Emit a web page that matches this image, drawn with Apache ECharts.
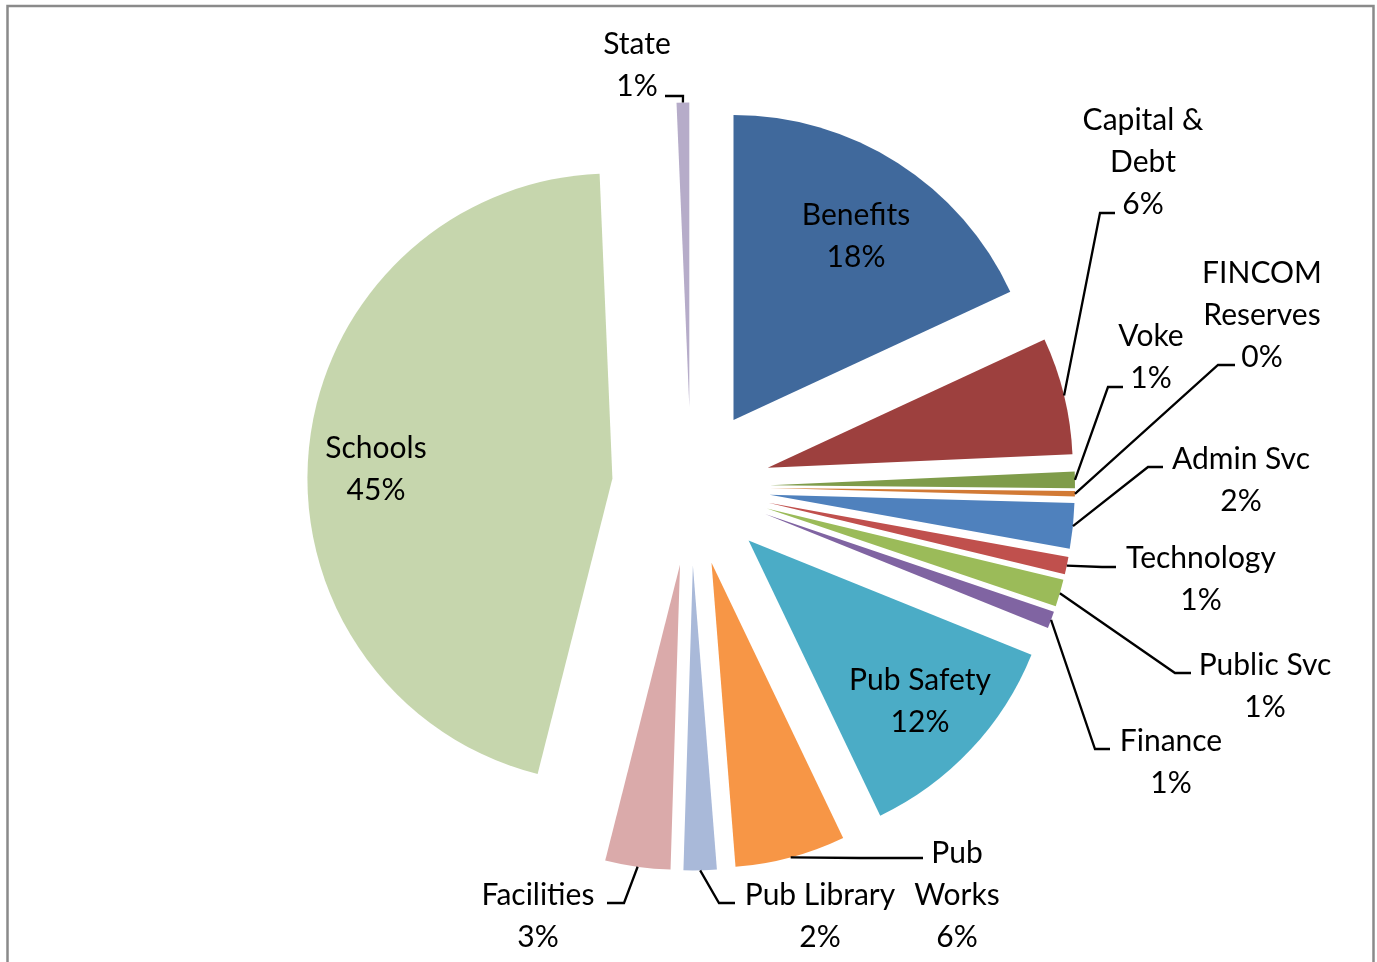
<!DOCTYPE html>
<html><head><meta charset="utf-8">
<script src="https://cdn.jsdelivr.net/npm/echarts@6/dist/echarts.min.js"></script>
<style>html,body{margin:0;padding:0;background:#fff}#c{width:1377px;height:962px}</style>
</head><body><div id="c"></div>
<script>
// ---- data ----
const categories = ['Benefits','Capital &\nDebt','Voke','FINCOM\nReserves','Admin Svc','Technology','Public Svc','Finance','Pub Safety','Pub\nWorks','Pub Library','Facilities','Schools','State'];
const shares = [18.1, 6.2, 0.87, 0.28, 2.4, 0.92, 1.44, 0.9, 11.8, 5.85, 1.75, 3.45, 45.4, 0.67];
const sliceColors = ['#40699C','#9D403E','#7F9C4A','#D27A35','#4F81BD','#C0504D','#9BBB59','#8064A2','#4BACC6','#F79646','#A9B9D9','#DAAAAA','#C6D6AD','#B6ACC9'];
const insideLabelCats = ['Benefits','Pub Safety','Schools'];

// ---- layout (positions, not data) ----
const CX = 691, CY = 486.5, R = 305, OFFSET = 79;
const labelAnchors = {
  'Benefits':          {x: 856,  y: 236},
  'Capital &\nDebt':   {x: 1143, y: 162, elbow: [1100, 213], end: [1115, 213]},
  'Voke':              {x: 1151, y: 357, elbow: [1108, 387], end: [1123, 387]},
  'FINCOM\nReserves':  {x: 1262, y: 315, elbow: [1218, 365], end: [1235, 365]},
  'Admin Svc':         {x: 1241, y: 480, elbow: [1148, 467], end: [1163, 467]},
  'Technology':        {x: 1201, y: 579, elbow: [1102, 567], end: [1116, 567]},
  'Public Svc':        {x: 1265, y: 686, elbow: [1175, 673], end: [1191, 673]},
  'Finance':           {x: 1171, y: 762, elbow: [1095, 749], end: [1110, 749]},
  'Pub Safety':        {x: 920,  y: 701},
  'Pub\nWorks':        {x: 957,  y: 895, elbow: [860, 858], end: [923, 858]},
  'Pub Library':       {x: 820,  y: 916, elbow: [719, 903], end: [735, 903]},
  'Facilities':        {x: 538,  y: 916, elbow: [624, 903], end: [607, 903]},
  'Schools':           {x: 376,  y: 469},
  'State':             {x: 637,  y: 65,  elbow: [683, 96], end: [665, 96]}
};

const total = shares.reduce((a, b) => a + b, 0);
function midAngle(i) {
  let s = 0;
  for (let k = 0; k < i; k++) s += shares[k];
  return (s + shares[i] / 2) / total * 2 * Math.PI;
}

const sliceData = categories.map((c, i) => ({
  name: c, value: shares[i], selected: true,
  itemStyle: {color: sliceColors[i]}
}));
const labelData = categories.map((c, i) => ({
  name: c, value: shares[i],
  labelLine: {show: insideLabelCats.indexOf(c) < 0}
}));

const common = {
  type: 'pie',
  center: [CX, CY],
  radius: [0, R],
  startAngle: 90,
  clockwise: true,
  avoidLabelOverlap: false,
  emphasis: {disabled: true}
};

const chart = echarts.init(document.getElementById('c'), null, {renderer: 'canvas'});
chart.setOption({
  animation: false,
  backgroundColor: '#ffffff',
  graphic: [{
    type: 'rect', silent: true, z: -1,
    shape: {x: 7.5, y: 6, width: 1366, height: 980},
    style: {fill: 'none', stroke: '#8a8a8a', lineWidth: 2.5}
  }],
  series: [
    Object.assign({}, common, {
      name: 'slices',
      selectedMode: 'multiple',
      selectedOffset: OFFSET,
      select: {itemStyle: {borderWidth: 0}},
      itemStyle: {borderWidth: 0},
      label: {show: false},
      labelLine: {show: false},
      data: sliceData
    }),
    Object.assign({}, common, {
      name: 'labels',
      silent: true,
      selectedMode: false,
      z: 3,
      itemStyle: {color: 'rgba(0,0,0,0)', borderWidth: 0},
      data: labelData,
      label: {
        show: true,
        position: 'outside',
        fontFamily: 'Lato, "Open Sans", sans-serif',
        fontSize: 30,
        lineHeight: 42,
        color: '#000',
        align: 'center',
        formatter: p => p.name + '\n' + Math.round(p.percent) + '%'
      },
      labelLine: {show: true, lineStyle: {color: '#000', width: 2.3}},
      labelLayout: function (params) {
        const i = params.dataIndex;
        const a = labelAnchors[categories[i]];
        const out = {x: a.x, y: a.y, align: 'center', verticalAlign: 'middle'};
        if (a.elbow) {
          const th = midAngle(i);
          const start = [CX + Math.sin(th) * (OFFSET + R), CY - Math.cos(th) * (OFFSET + R)];
          out.labelLinePoints = [start, a.elbow, a.end];
        }
        return out;
      }
    })
  ]
});
</script>
</body></html>
